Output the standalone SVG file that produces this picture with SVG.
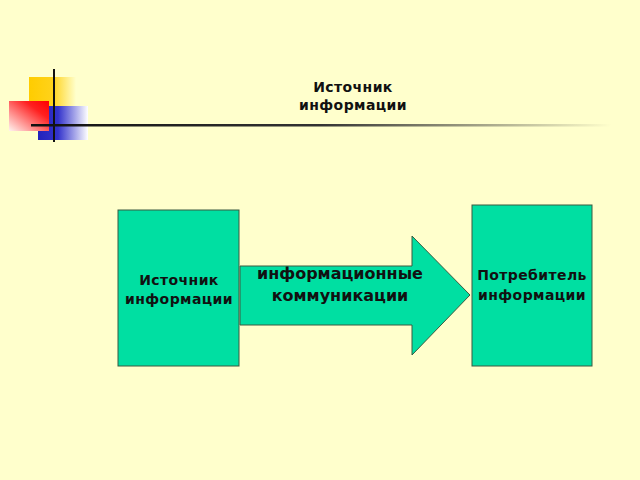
<svg xmlns="http://www.w3.org/2000/svg" width="640" height="480" viewBox="0 0 640 480">
<style>
.node{fill:#00DFA2;stroke:#3a5a40;stroke-width:1}
.t{font-family:"DejaVu Sans",Verdana,sans-serif;font-weight:bold;fill:#111;text-anchor:middle}
.s{font-size:14px;letter-spacing:0.4px}
</style>
<defs>
<linearGradient id="gy" x1="0" y1="0" x2="1" y2="0"><stop offset="0" stop-color="#FFCC00"/><stop offset="0.5" stop-color="#FFD21A"/><stop offset="1" stop-color="#FFFFCC"/></linearGradient>
<linearGradient id="gr" x1="1" y1="0" x2="0" y2="1"><stop offset="0" stop-color="#FF0000"/><stop offset="0.3" stop-color="#FF2020"/><stop offset="1" stop-color="#FFF4F0"/></linearGradient>
<linearGradient id="gb" x1="0" y1="0" x2="1" y2="0"><stop offset="0" stop-color="#2222BB"/><stop offset="0.4" stop-color="#3333CC"/><stop offset="1" stop-color="#FFFFFF"/></linearGradient>
<linearGradient id="gl" x1="0" y1="0" x2="1" y2="0"><stop offset="0" stop-color="#111"/><stop offset="0.5" stop-color="#333"/><stop offset="1" stop-color="#FFFFCC"/></linearGradient>
</defs>
<rect width="640" height="480" fill="#FFFFCC"/>
<g id="decor">
<rect x="29" y="77" width="47" height="44" fill="url(#gy)"/>
<rect x="38" y="106" width="50" height="34" fill="url(#gb)"/>
<rect x="9" y="101" width="40" height="30" fill="url(#gr)"/>
<line x1="54" y1="69" x2="54" y2="142" stroke="#111" stroke-width="2"/>
<rect x="31" y="124" width="580" height="2.5" fill="url(#gl)"/>
</g>
<g id="title">
<text class="t s" x="353" y="92">Источник</text>
<text class="t s" x="353" y="110">информации</text>
</g>
<g id="connectors">
<path class="node" d="M240,266 H412 V236 L470,295 L412,355 V325 H240 Z"/>
<text class="t" x="340" y="279" font-size="16">информационные</text>
<text class="t" x="340" y="301" font-size="16">коммуникации</text>
</g>
<g id="source">
<rect class="node" x="118" y="210" width="121" height="156"/>
<text class="t s" x="179" y="285">Источник</text>
<text class="t s" x="179" y="304">информации</text>
</g>
<g id="consumer">
<rect class="node" x="472" y="205" width="120" height="161"/>
<text class="t s" x="532" y="280">Потребитель</text>
<text class="t s" x="532" y="300">информации</text>
</g>
</svg>
